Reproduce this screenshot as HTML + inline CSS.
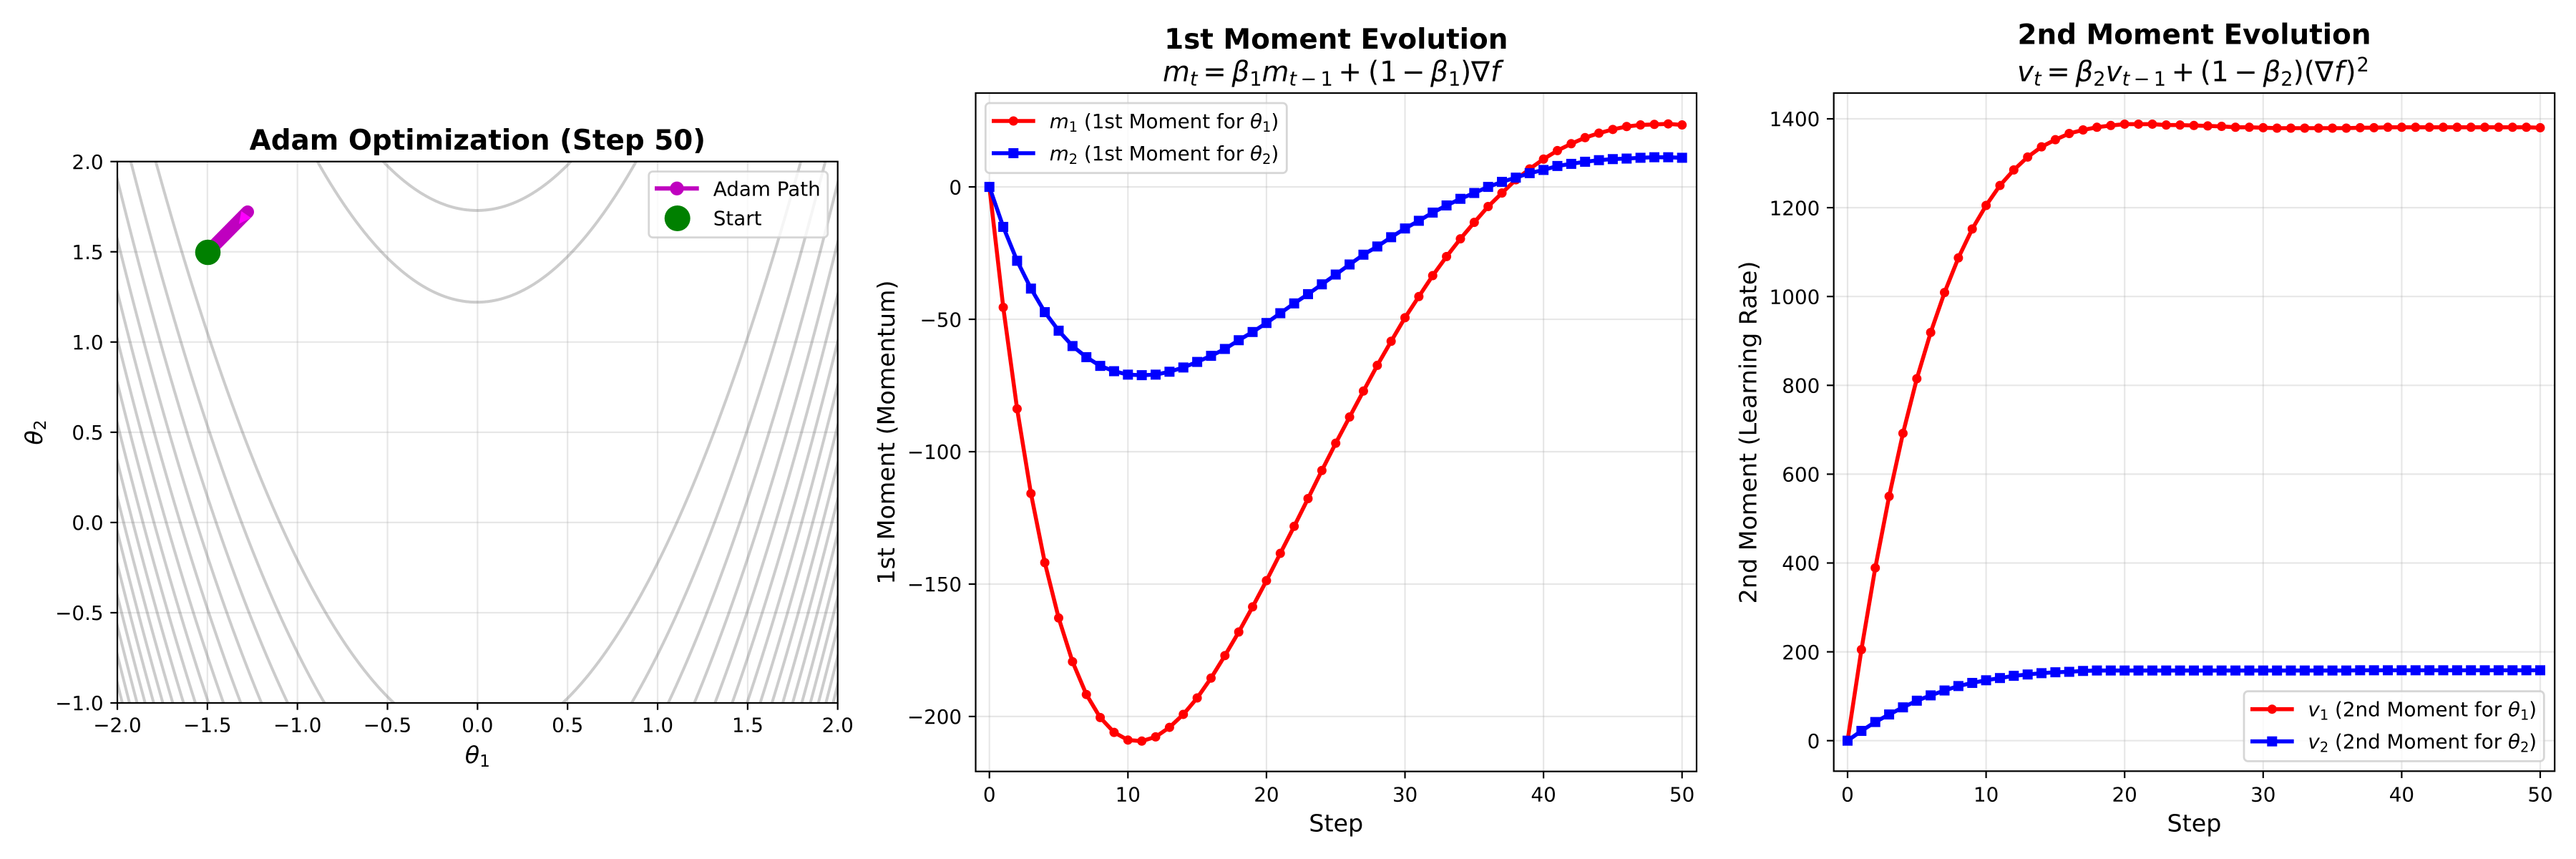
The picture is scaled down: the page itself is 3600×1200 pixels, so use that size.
<!DOCTYPE html>
<html><head><meta charset="utf-8">
<style>
html,body{margin:0;padding:0;background:#fff;}
svg{display:block;}
text{font-family:"DejaVu Sans","Liberation Sans",sans-serif;fill:#000;}
.tk{font-size:27.78px;}
.lb{font-size:33.33px;}
.tt{font-size:38.89px;font-weight:bold;}
.mt{font-size:38.89px;}
.lg{font-size:27.78px;}
.it{font-style:italic;}
</style></head><body>
<svg id="s" width="3600" height="1200" viewBox="0 0 3600 1200" xmlns="http://www.w3.org/2000/svg">
<defs>
<clipPath id="c1"><rect x="164" y="225.7" width="1006.7" height="756.3"/></clipPath>
<clipPath id="c2"><rect x="1363.5" y="130" width="1007.5" height="947.7"/></clipPath>
<clipPath id="c3"><rect x="2562.7" y="130" width="1007.5" height="947.3"/></clipPath>
</defs>
<rect width="3600" height="1200" fill="#fff"/>
<g id="grid" stroke="#b0b0b0" stroke-opacity="0.3" stroke-width="2.2" fill="none"></g>
<g id="cont" clip-path="url(#c1)" fill="none" stroke="#808080" stroke-opacity="0.4" stroke-width="4"></g>
<g id="path1">
  <line x1="290.3" y1="352.3" x2="346" y2="296" stroke="#bf00bf" stroke-width="18" stroke-linecap="round"/>
  <polygon points="337.3,295 350.7,304.3 334,312.7" fill="#ff00ff"/>
  <circle cx="290.5" cy="352.5" r="17.8" fill="#008000"/>
</g>
<g id="d2" clip-path="url(#c2)"></g>
<g id="d3" clip-path="url(#c3)"></g>
<g id="axes" fill="none" stroke="#000" stroke-width="2.2"></g>

<!-- Legend panel 1 -->
<rect x="906.7" y="239.6" width="250.1" height="92.1" rx="5.6" fill="#fff" fill-opacity="0.8" stroke="#cccccc" stroke-opacity="0.8" stroke-width="2.78"/>
<line x1="915" y1="263.3" x2="976.7" y2="263.3" stroke="#bf00bf" stroke-width="6"/>
<circle cx="946" cy="263.3" r="9.7" fill="#bf00bf"/>
<circle cx="946.7" cy="305" r="18" fill="#008000"/>
<text class="lg" x="996.7" y="273.3">Adam Path</text>
<text class="lg" x="996.7" y="314.3">Start</text>

<!-- Legend panel 2 -->
<rect x="1377.3" y="144" width="421" height="97.7" rx="5.6" fill="#fff" fill-opacity="0.8" stroke="#cccccc" stroke-opacity="0.8" stroke-width="2.78"/>
<line x1="1386" y1="169" x2="1446.7" y2="169" stroke="#ff0000" stroke-width="5.56"/>
<circle cx="1416.3" cy="169" r="6.5" fill="#ff0000"/>
<line x1="1386" y1="214" x2="1446.7" y2="214" stroke="#0000ff" stroke-width="5.56"/>
<rect x="1409.3" y="207" width="14" height="14" fill="#0000ff"/>
<text class="lg" x="1466.7" y="179"><tspan class="it">m</tspan><tspan font-size="19.4" dy="5">1</tspan><tspan dy="-5"> (1st Moment for </tspan><tspan class="it">θ</tspan><tspan font-size="19.4" dy="5">1</tspan><tspan dy="-5">)</tspan></text>
<text class="lg" x="1466.7" y="224"><tspan class="it">m</tspan><tspan font-size="19.4" dy="5">2</tspan><tspan dy="-5"> (1st Moment for </tspan><tspan class="it">θ</tspan><tspan font-size="19.4" dy="5">2</tspan><tspan dy="-5">)</tspan></text>

<!-- Legend panel 3 -->
<rect x="3136" y="965.7" width="419.3" height="97.7" rx="5.6" fill="#fff" fill-opacity="0.8" stroke="#cccccc" stroke-opacity="0.8" stroke-width="2.78"/>
<line x1="3145" y1="990.7" x2="3205.7" y2="990.7" stroke="#ff0000" stroke-width="5.56"/>
<circle cx="3175.3" cy="990.7" r="6.5" fill="#ff0000"/>
<line x1="3145" y1="1035.7" x2="3205.7" y2="1035.7" stroke="#0000ff" stroke-width="5.56"/>
<rect x="3168.3" y="1028.7" width="14" height="14" fill="#0000ff"/>
<text class="lg" x="3225.4" y="1000.7"><tspan class="it">v</tspan><tspan font-size="19.4" dy="5">1</tspan><tspan dy="-5"> (2nd Moment for </tspan><tspan class="it">θ</tspan><tspan font-size="19.4" dy="5">1</tspan><tspan dy="-5">)</tspan></text>
<text class="lg" x="3225.4" y="1045.7"><tspan class="it">v</tspan><tspan font-size="19.4" dy="5">2</tspan><tspan dy="-5"> (2nd Moment for </tspan><tspan class="it">θ</tspan><tspan font-size="19.4" dy="5">2</tspan><tspan dy="-5">)</tspan></text>

<!-- Titles -->
<text class="tt" x="667.35" y="209" text-anchor="middle">Adam Optimization (Step 50)</text>
<text class="tt" x="1867.25" y="68" text-anchor="middle">1st Moment Evolution</text>
<text class="tt" x="3066.5" y="61.5" text-anchor="middle">2nd Moment Evolution</text>

<text class="mt" y="113.5"><tspan x="1625" class="it">m</tspan><tspan x="1662.9" font-size="27.2" dy="6" class="it">t</tspan><tspan x="1681.2" dy="-6">=</tspan><tspan x="1721.4" class="it">β</tspan><tspan x="1746.2" font-size="27.2" dy="6">1</tspan><tspan x="1763.5" dy="-6" class="it">m</tspan><tspan x="1801.4" font-size="27.2" dy="6" class="it">t</tspan><tspan x="1817.4" font-size="27.2">−</tspan><tspan x="1845.5" font-size="27.2">1</tspan><tspan x="1870.4" dy="-6">+</tspan><tspan x="1912">(</tspan><tspan x="1928">1</tspan><tspan x="1959">−</tspan><tspan x="1999" class="it">β</tspan><tspan x="2024" font-size="27.2" dy="6">1</tspan><tspan x="2041" dy="-6">)</tspan><tspan x="2056">∇</tspan><tspan x="2083" class="it">f</tspan></text>

<text class="mt" y="113.3"><tspan x="2819" class="it">v</tspan><tspan x="2842" font-size="27.2" dy="6" class="it">t</tspan><tspan x="2860.3" dy="-6">=</tspan><tspan x="2900.5" class="it">β</tspan><tspan x="2925.3" font-size="27.2" dy="6">2</tspan><tspan x="2942.6" dy="-6" class="it">v</tspan><tspan x="2965.6" font-size="27.2" dy="6" class="it">t</tspan><tspan x="2981.6" font-size="27.2">−</tspan><tspan x="3009.7" font-size="27.2">1</tspan><tspan x="3034.6" dy="-6">+</tspan><tspan x="3074.8">(</tspan><tspan x="3090">1</tspan><tspan x="3122.3">−</tspan><tspan x="3162.5" class="it">β</tspan><tspan x="3187.3" font-size="27.2" dy="6">2</tspan><tspan x="3204.6" dy="-6">)</tspan><tspan x="3219.8">(</tspan><tspan x="3235">∇</tspan><tspan x="3262" class="it">f</tspan><tspan x="3277.5">)</tspan><tspan x="3293.5" font-size="27.2" dy="-14">2</tspan></text>

<!-- Axis labels -->
<text class="lb" x="667.35" y="1066" text-anchor="middle"><tspan class="it">θ</tspan><tspan font-size="23.3" dy="5">1</tspan></text>
<text class="lb" transform="translate(59,604) rotate(-90)" text-anchor="middle"><tspan class="it">θ</tspan><tspan font-size="23.3" dy="5">2</tspan></text>
<text class="lb" x="1867.25" y="1161.5" text-anchor="middle">Step</text>
<text class="lb" x="3066.5" y="1161.5" text-anchor="middle">Step</text>
<text class="lb" transform="translate(1249.8,604) rotate(-90)" text-anchor="middle">1st Moment (Momentum)</text>
<text class="lb" transform="translate(2454.5,604) rotate(-90)" text-anchor="middle">2nd Moment (Learning Rate)</text>

<!-- Panel 1 tick labels -->
<g class="tk" text-anchor="middle">
<text x="164" y="1022.5">−2.0</text>
<text x="289.8" y="1022.5">−1.5</text>
<text x="415.7" y="1022.5">−1.0</text>
<text x="541.5" y="1022.5">−0.5</text>
<text x="667.35" y="1022.5">0.0</text>
<text x="793.2" y="1022.5">0.5</text>
<text x="919" y="1022.5">1.0</text>
<text x="1044.9" y="1022.5">1.5</text>
<text x="1170.7" y="1022.5">2.0</text>
</g>
<g class="tk" text-anchor="end">
<text x="144.6" y="235.9">2.0</text>
<text x="144.6" y="362">1.5</text>
<text x="144.6" y="488">1.0</text>
<text x="144.6" y="614.1">0.5</text>
<text x="144.6" y="740.1">0.0</text>
<text x="144.6" y="866.2">−0.5</text>
<text x="144.6" y="992.2">−1.0</text>
</g>

<!-- Panel 2 tick labels -->
<g class="tk" text-anchor="middle">
<text x="1382.7" y="1119.5">0</text>
<text x="1576.3" y="1119.5">10</text>
<text x="1769.9" y="1119.5">20</text>
<text x="1963.5" y="1119.5">30</text>
<text x="2157.1" y="1119.5">40</text>
<text x="2350.7" y="1119.5">50</text>
</g>
<g class="tk" text-anchor="end">
<text x="1344.1" y="271.3">0</text>
<text x="1344.1" y="456.25">−50</text>
<text x="1344.1" y="641.2">−100</text>
<text x="1344.1" y="826.15">−150</text>
<text x="1344.1" y="1011.1">−200</text>
</g>

<!-- Panel 3 tick labels -->
<g class="tk" text-anchor="middle">
<text x="2582" y="1119.5">0</text>
<text x="2775.6" y="1119.5">10</text>
<text x="2969.2" y="1119.5">20</text>
<text x="3162.8" y="1119.5">30</text>
<text x="3356.4" y="1119.5">40</text>
<text x="3550" y="1119.5">50</text>
</g>
<g class="tk" text-anchor="end">
<text x="2543.3" y="1044.9">0</text>
<text x="2543.3" y="920.8">200</text>
<text x="2543.3" y="796.7">400</text>
<text x="2543.3" y="672.6">600</text>
<text x="2543.3" y="548.5">800</text>
<text x="2543.3" y="424.4">1000</text>
<text x="2543.3" y="300.3">1200</text>
<text x="2543.3" y="176.2">1400</text>
</g>
</svg>
<script>
(function(){
const NS="http://www.w3.org/2000/svg";
function el(p,t,a){const e=document.createElementNS(NS,t);for(const k in a)e.setAttribute(k,a[k]);p.appendChild(e);return e;}
const G=id=>document.getElementById(id);
const grid=G('grid'), cont=G('cont'), axes=G('axes'), d2=G('d2'), d3=G('d3');

// Panel 1
const X1=v=>164+(v+2)*251.675, Y1=v=>225.7+(2-v)*252.1;
for(let v=-2;v<=2.001;v+=0.5){el(grid,'line',{x1:X1(v),y1:225.7,x2:X1(v),y2:982});}
for(let v=-1;v<=2.001;v+=0.5){el(grid,'line',{x1:164,y1:Y1(v),x2:1170.7,y2:Y1(v)});}
for(let k=1;k<=16;k++){
  const L=150*k;
  for(const s of [1,-1]){
    let pts=[];
    for(let x=-2.03;x<=2.03;x+=0.004){
      const y=x*x+s*Math.sqrt(Math.max(0,L-(1-x)*(1-x))/100);
      if(y<-1.3||y>2.3){ if(pts.length>1){el(cont,'polyline',{points:pts.join(' ')});} pts=[]; continue;}
      pts.push(X1(x).toFixed(2)+','+Y1(y).toFixed(2));
    }
    if(pts.length>1)el(cont,'polyline',{points:pts.join(' ')});
  }
}
el(axes,'rect',{x:164,y:225.7,width:1006.7,height:756.3});
for(let v=-2;v<=2.001;v+=0.5){el(axes,'line',{x1:X1(v),y1:982,x2:X1(v),y2:991.7});}
for(let v=-1;v<=2.001;v+=0.5){el(axes,'line',{x1:164,y1:Y1(v),x2:154.3,y2:Y1(v)});}

// Panel 2 & 3 data
const m1=[0,-45.5,-83.8,-115.8,-141.9,-162.8,-179.3,-191.7,-200.4,-206,-208.9,-209.3,-207.7,-204.1,-199.2,-193,-185.5,-177,-168.1,-158.6,-148.7,-138.4,-128.2,-117.7,-107.1,-96.8,-86.9,-77.1,-67.4,-58.3,-49.4,-41.4,-33.5,-26.3,-19.6,-13.4,-7.4,-2.3,2.7,6.8,10.5,13.7,16.3,18.6,20.3,21.7,22.8,23.4,23.6,23.8,23.4];
const m2=[0,-15.1,-27.9,-38.4,-47.3,-54.3,-60.1,-64.3,-67.6,-69.6,-70.9,-71.1,-70.9,-69.8,-68.2,-66.1,-63.8,-61.2,-57.9,-54.8,-51.4,-47.7,-44,-40.5,-36.8,-33.1,-29.3,-25.6,-22.5,-19,-15.7,-12.8,-9.7,-7,-4.5,-2.3,0,1.9,3.5,5.2,6.4,7.9,8.7,9.5,10.1,10.5,10.7,11,11.2,11.2,11];
const v1=[0,205,389,550,692,815,919,1009,1087,1152,1205,1250,1285,1314,1337,1353,1367,1375,1381,1385,1388,1388,1388,1386,1386,1385,1384,1383,1381,1381,1380,1379,1379,1379,1379,1379,1379,1380,1380,1381,1381,1381,1381,1381,1381,1381,1381,1381,1381,1381,1380];
const v2=[0,22,42,59,75,90,102,113,123,130,136,141,146,149,152,154,155,157,158,158,158,158,158,158,158,158,158,158,158,158,158,158,158,158,158,158,158,158.5,158.5,158.5,158.5,158.5,158.5,158.5,158.5,158.5,158.5,158.5,158.5,158.5,158.5];

function panel(g,X,Y,xt,yt,ax,a1,a2){
  xt.forEach(v=>el(grid,'line',{x1:X(v),y1:ax.y0,x2:X(v),y2:ax.y1}));
  yt.forEach(v=>el(grid,'line',{x1:ax.x0,y1:Y(v),x2:ax.x1,y2:Y(v)}));
  el(g,'polyline',{points:a1.map((v,i)=>X(i).toFixed(2)+','+Y(v).toFixed(2)).join(' '),fill:'none',stroke:'#ff0000','stroke-width':5.56,'stroke-linejoin':'round'});
  a1.forEach((v,i)=>el(g,'circle',{cx:X(i),cy:Y(v),r:6.5,fill:'#ff0000'}));
  el(g,'polyline',{points:a2.map((v,i)=>X(i).toFixed(2)+','+Y(v).toFixed(2)).join(' '),fill:'none',stroke:'#0000ff','stroke-width':5.56,'stroke-linejoin':'round'});
  a2.forEach((v,i)=>el(g,'rect',{x:X(i)-7,y:Y(v)-7,width:14,height:14,fill:'#0000ff'}));
  el(axes,'rect',{x:ax.x0,y:ax.y0,width:ax.x1-ax.x0,height:ax.y1-ax.y0});
  xt.forEach(v=>el(axes,'line',{x1:X(v),y1:ax.y1,x2:X(v),y2:ax.y1+9.7}));
  yt.forEach(v=>el(axes,'line',{x1:ax.x0,y1:Y(v),x2:ax.x0-9.7,y2:Y(v)}));
}
panel(d2,v=>1382.7+19.36*v,v=>261.1-3.699*v,[0,10,20,30,40,50],[0,-50,-100,-150,-200],{x0:1363.5,x1:2371,y0:130,y1:1077.7},m1,m2);
panel(d3,v=>2582+19.36*v,v=>1034.7-0.6205*v,[0,10,20,30,40,50],[0,200,400,600,800,1000,1200,1400],{x0:2562.7,x1:3570.2,y0:130,y1:1077.3},v1,v2);
})();
</script>
</body></html>
